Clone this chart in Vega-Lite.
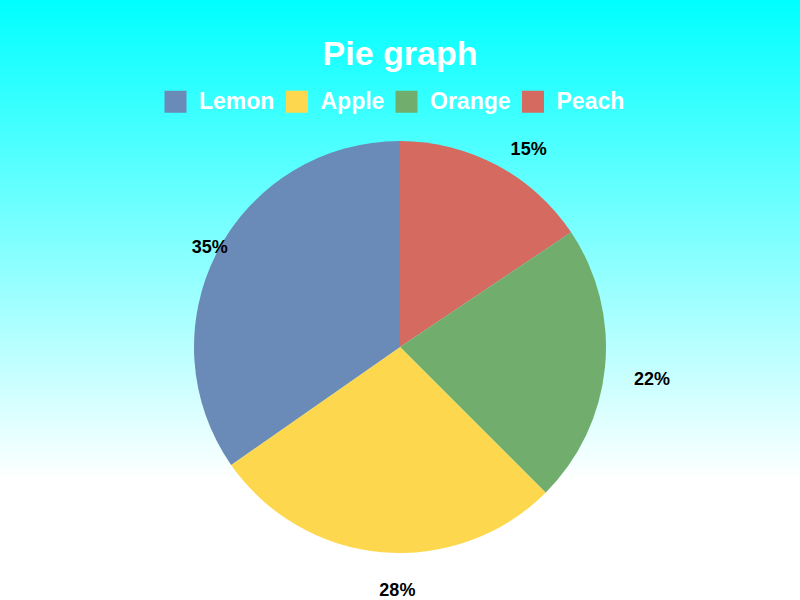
{
  "$schema": "https://vega.github.io/schema/vega-lite/v6.json",
  "width": 800,
  "height": 600,
  "autosize": "none",
  "padding": 0,
  "background": "#ffffff",
  "title": {
    "text": "Pie graph",
    "frame": "group",
    "anchor": "middle",
    "offset": -99,
    "baseline": "alphabetic",
    "font": "Liberation Sans",
    "fontSize": 34,
    "fontWeight": "bold",
    "color": "#ffffff"
  },
  "config": {"view": {"stroke": null}},
  "layer": [
    {
      "data": {"values": [{"panel": "background"}]},
      "mark": {
        "type": "rect",
        "fill": {
          "gradient": "linear",
          "x1": 0, "y1": 0, "x2": 0, "y2": 1,
          "stops": [
            {"offset": 0, "color": "#00ffff"},
            {"offset": 0.8, "color": "#ffffff"},
            {"offset": 1, "color": "#ffffff"}
          ]
        }
      },
      "encoding": {}
    },
    {
      "data": {"name": "fruits"},
      "mark": {"type": "arc", "outerRadius": 206, "yOffset": 47},
      "encoding": {
        "theta": {"field": "share", "type": "quantitative", "stack": true},
        "order": {"field": "slice", "type": "quantitative", "sort": "ascending"},
        "color": {
          "field": "fruit",
          "type": "nominal",
          "scale": {
            "domain": ["Lemon", "Apple", "Orange", "Peach"],
            "range": ["#6a8ab7", "#fdd84e", "#71ae6e", "#d46a60"]
          },
          "legend": {
            "title": null,
            "orient": "none",
            "legendX": 164,
            "legendY": 90,
            "direction": "horizontal",
            "padding": 0,
            "symbolType": "square",
            "symbolSize": 484,
            "symbolStrokeWidth": 0,
            "symbolOpacity": 1,
            "labelFont": "Liberation Sans",
            "labelFontSize": 23,
            "labelFontWeight": "bold",
            "labelColor": "#ffffff",
            "labelOffset": 12,
            "columnPadding": 10.5,
            "labelLimit": 0
          }
        }
      }
    },
    {
      "data": {"name": "fruits"},
      "mark": {
        "type": "text",
        "radius": 235,
        "yOffset": 48,
        "align": "left",
        "baseline": "top",
        "font": "Liberation Sans",
        "fontSize": 18,
        "fontWeight": "bold",
        "color": "#000000"
      },
      "encoding": {
        "theta": {"field": "share", "type": "quantitative", "stack": true},
        "order": {"field": "slice", "type": "quantitative", "sort": "ascending"},
        "text": {"field": "label", "type": "nominal"}
      }
    }
  ],
  "datasets": {
    "fruits": [
      {"fruit": "Peach", "share": 15.6, "label": "15%", "slice": 1},
      {"fruit": "Orange", "share": 21.9, "label": "22%", "slice": 2},
      {"fruit": "Apple", "share": 27.8, "label": "28%", "slice": 3},
      {"fruit": "Lemon", "share": 34.7, "label": "35%", "slice": 4}
    ]
  }
}
